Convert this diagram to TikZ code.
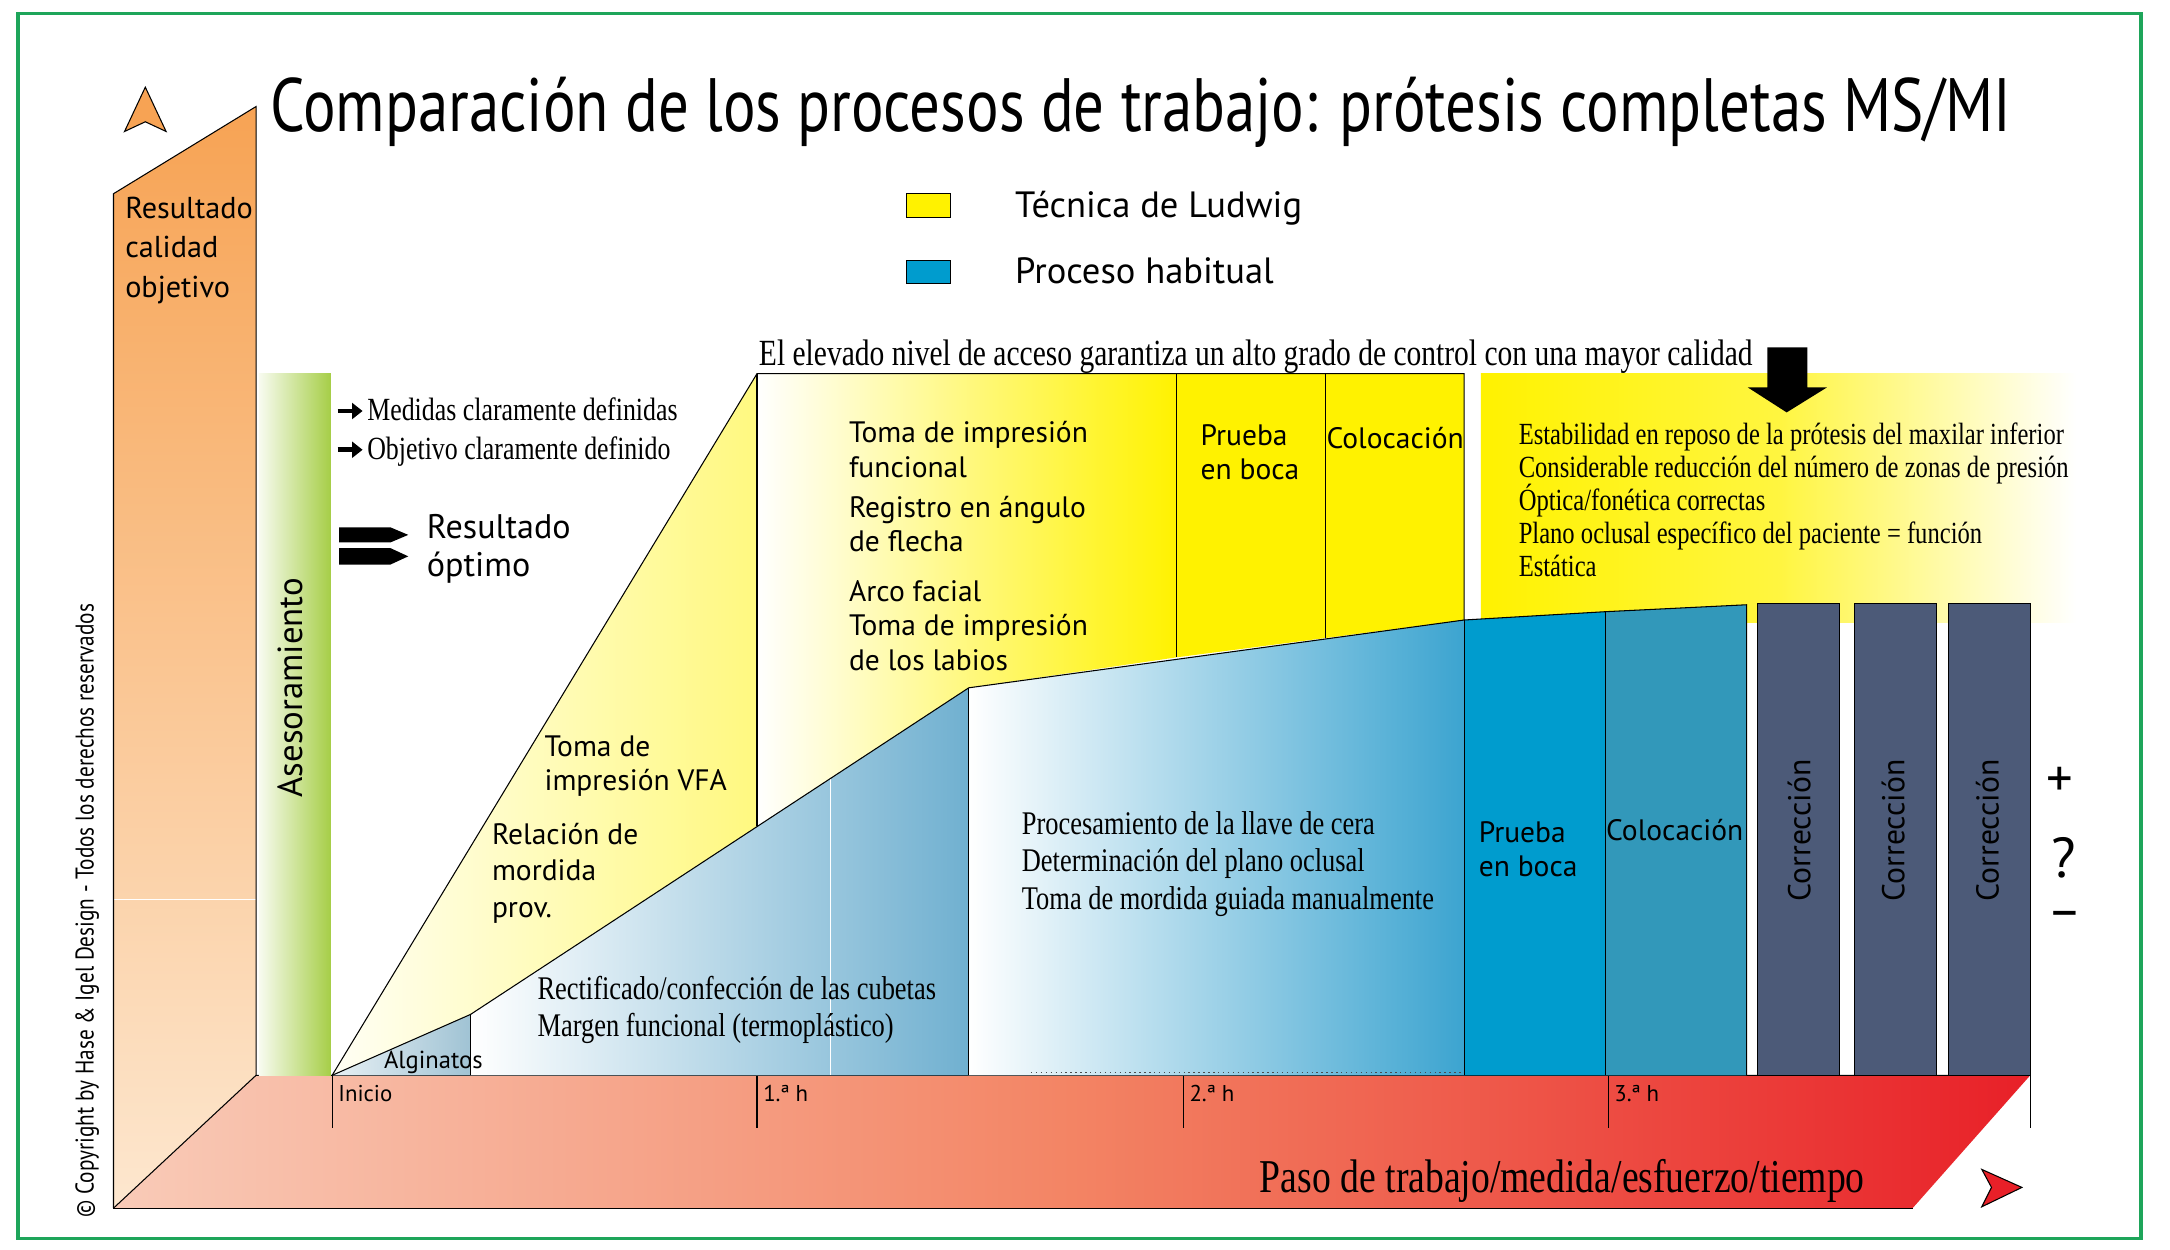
\documentclass[tikz,border=0pt]{standalone}
\usepackage{fontspec}
\setmainfont{Liberation Serif}
\newfontfamily\pts{PT Sans}
\usetikzlibrary{arrows.meta}

\definecolor{framegreen}{RGB}{30,165,90}
\definecolor{axorange}{RGB}{247,163,84}
\definecolor{axpeach}{RGB}{253,231,207}
\definecolor{floorpink}{RGB}{249,203,184}
\definecolor{floorsalmon}{RGB}{243,132,100}
\definecolor{floorred}{RGB}{232,32,40}
\definecolor{advgreen}{RGB}{166,206,71}
\definecolor{ludyellow}{RGB}{255,242,0}
\definecolor{habblue}{RGB}{0,156,206}
\definecolor{colblue}{RGB}{50,152,186}
\definecolor{algblue}{RGB}{160,195,212}
\definecolor{blueA}{RGB}{112,176,208}
\definecolor{blueB}{RGB}{60,164,208}
\definecolor{corrslate}{RGB}{76,90,120}

\tikzset{
  outl/.style={draw=black, line width=0.3pt},
  sanslbl/.style={font=\pts\fontsize{8.4}{9.8}\selectfont, anchor=north west, inner sep=0pt, align=left},
  serlbl/.style={anchor=north west, inner sep=0pt, align=left, transform shape, xscale=0.8},
  ticklbl/.style={font=\pts\fontsize{6.5}{7}\selectfont, anchor=base west, inner sep=0pt},
  corrlbl/.style={font=\pts\fontsize{9}{10}\selectfont, rotate=90, inner sep=0pt}
}

\begin{document}
\begin{tikzpicture}[x=0.01384cm, y=-0.01384cm]
    \useasboundingbox (0,0) rectangle (1568,903);

    % Frame
    \draw[framegreen, line width=0.9pt] (13,10) rectangle (1547,895);

    % Quality axis
    \shade[top color=axorange, bottom color=axpeach] (82,140) -- (185,77) -- (185,777) -- (82,873) -- cycle;
    \draw[white, line width=0.4pt] (82,650) -- (185,650);
    \draw[outl] (82,873) -- (82,140) -- (185,77) -- (185,777);
    \draw[outl, fill=axorange] (105,63) -- (120,95) -- (105,88) -- (90,95) -- cycle;

    % Floor (time axis)
    \shade[left color=floorpink, right color=floorred, middle color=floorsalmon] (82,873) -- (185,777) -- (1467,777) -- (1382,873) -- cycle;
    \draw[outl] (82,873) -- (185,777) -- (1467,777);
    \draw[outl] (82,873) -- (1382,873);
    \draw[outl, fill=floorred] (1432,845) -- (1461,858) -- (1432,872) -- (1439,858) -- cycle;
    \foreach \x/\lbl in {240/Inicio, 547/1.ª h, 855/2.ª h, 1162/3.ª h}
    {
        \draw[outl] (\x,777) -- (\x,815);
        \node[ticklbl] (tick\x) at (\x+4,796) {\lbl};
    }
    \draw[outl] (1467,777) -- (1467,815);

    % Advice bar
    \shade[left color=advgreen!8, right color=advgreen] (187,270) rectangle (239,777);

    % Result box
    \shade[left color=ludyellow, right color=white, middle color=ludyellow!75] (1070,270) rectangle (1500,450);

    % Ludwig technique
    \shade[left color=ludyellow!4, right color=ludyellow!50] (240,777) -- (547,270) -- (547,597) -- (340,733) -- cycle;
    \shade[left color=white, right color=ludyellow] (547,270) -- (850,270) -- (850,475) -- (700,497) -- (547,597) -- cycle;
    \fill[ludyellow] (850,270) -- (1058,270) -- (1058,448) -- (958,461) -- (850,475) -- cycle;

    % Usual process
    \shade[left color=algblue!25, right color=algblue] (240,777) -- (340,733) -- (340,777) -- cycle;
    \shade[left color=white, right color=blueA] (340,733) -- (700,497) -- (700,777) -- (340,777) -- cycle;
    \draw[white, line width=0.4pt] (600,563) -- (600,777);
    \shade[left color=white, right color=blueB] (700,497) -- (1058,448) -- (1058,777) -- (700,777) -- cycle;
    \draw[densely dotted, black!70] (745,775) -- (1058,775);
    \fill[habblue] (1058,448) -- (1160,442) -- (1160,777) -- (1058,777) -- cycle;
    \fill[colblue] (1160,442) -- (1262,437) -- (1262,777) -- (1160,777) -- cycle;
    \foreach \x in {1270,1340,1408}
        \draw[outl, fill=corrslate] (\x,436) rectangle ++(59,341);

    % Outlines
    \draw[outl] (240,777) -- (547,270) -- (1058,270) -- (1058,448);
    \draw[outl] (547,270) -- (547,597);
    \draw[outl] (850,270) -- (850,475);
    \draw[outl] (958,270) -- (958,461);
    \draw[outl] (240,777) -- (340,733) -- (700,497) -- (1058,448) -- (1160,442) -- (1262,437) -- (1262,777);
    \draw[outl] (340,733) -- (340,777);
    \draw[outl] (700,497) -- (700,777);
    \draw[outl] (1058,448) -- (1058,777);
    \draw[outl] (1160,442) -- (1160,777);

    % Arrows
    \fill (1277,251) -- (1306,251) -- (1306,280) -- (1320,280) -- (1291,298) -- (1263,280) -- (1277,280) -- cycle;
    \fill (245,381) -- (282,381) -- (295,386.5) -- (282,392) -- (245,392) -- cycle;
    \fill (245,396) -- (282,396) -- (295,402) -- (282,408) -- (245,408) -- cycle;
    \draw[line width=1.3pt, -{Triangle[length=3pt, width=4.5pt]}] (244,297) -- (262,297);
    \draw[line width=1.3pt, -{Triangle[length=3pt, width=4.5pt]}] (244,325) -- (262,325);

    % Title and legend
    \node[font=\pts\fontsize{21.5}{24}\selectfont, anchor=base west, inner sep=0pt, transform shape, xscale=0.806] (title) at (195,95)
        {Comparación de los procesos de trabajo: prótesis completas MS/MI};
    \draw[outl, fill=ludyellow] (655,140) rectangle (687,157);
    \draw[outl, fill=habblue] (655,188) rectangle (687,205);
    \node[font=\pts\fontsize{10.4}{11}\selectfont, anchor=base west, inner sep=0pt] (legLudwig) at (733,157) {Técnica de Ludwig};
    \node[font=\pts\fontsize{10.4}{11}\selectfont, anchor=base west, inner sep=0pt] (legUsual) at (733,205) {Proceso habitual};

    % Axis texts
    \node[sanslbl, font=\pts\fontsize{8.6}{11.2}\selectfont] (quality) at (90,142) {Resultado\\calidad\\objetivo};
    \node[font=\pts\fontsize{9.9}{10}\selectfont, rotate=90, inner sep=0pt] (advice) at (210,497) {Asesoramiento};
    \node[font=\pts\fontsize{7.3}{8}\selectfont, rotate=90, inner sep=0pt, transform shape, xscale=0.83] (copyright) at (63,658)
        {© Copyright by Hase \& Igel Design - Todos los derechos reservados};
    \node[serlbl, font=\fontsize{13.4}{15}\selectfont, anchor=base west] (timeaxis) at (910,862) {Paso de trabajo/medida/esfuerzo/tiempo};

    % Goal texts
    \node[serlbl, font=\fontsize{9.2}{11}\selectfont] (goals) at (265,287) {Medidas claramente definidas\\Objetivo claramente definido};
    \node[sanslbl, font=\pts\fontsize{9.7}{11}\selectfont] (optimum) at (308,371) {Resultado\\óptimo};
    \node[serlbl, font=\fontsize{10.5}{12}\selectfont, anchor=base west] (control) at (548,264)
        {El elevado nivel de acceso garantiza un alto grado de control con una mayor calidad};
    \node[serlbl, font=\fontsize{8.75}{9.4}\selectfont] (benefits) at (1097,305)
        {Estabilidad en reposo de la prótesis del maxilar inferior\\Considerable reducción del número de zonas de presión\\Óptica/fonética correctas\\Plano oclusal específico del paciente = función\\Estática};

    % Ludwig steps
    \node[sanslbl] (funcImp) at (613,304) {Toma de impresión\\funcional};
    \node[sanslbl] (arrowReg) at (613,358) {Registro en ángulo\\de flecha};
    \node[sanslbl] (faceBow) at (613,419) {Arco facial\\Toma de impresión\\de los labios};
    \node[sanslbl] (tryLud) at (867,306) {Prueba\\en boca};
    \node[sanslbl, anchor=base west] (placeLud) at (958,324) {Colocación};
    \node[sanslbl] (vfaImp) at (393,531) {Toma de\\impresión VFA};
    \node[sanslbl, font=\pts\fontsize{8.4}{10.4}\selectfont] (provBite) at (355,594) {Relación de\\mordida\\prov.};

    % Usual steps
    \node[font=\pts\fontsize{7}{8}\selectfont, anchor=base west, inner sep=0pt] (alginate) at (277,772) {Alginatos};
    \node[serlbl, font=\fontsize{9.4}{10.6}\selectfont] (trays) at (388,705) {Rectificado/confección de las cubetas\\Margen funcional (termoplástico)};
    \node[serlbl, font=\fontsize{9.4}{10.6}\selectfont] (waxKey) at (738,586) {Procesamiento de la llave de cera\\Determinación del plano oclusal\\Toma de mordida guiada manualmente};
    \node[sanslbl] (tryUsual) at (1068,593) {Prueba\\en boca};
    \node[sanslbl, anchor=base west] (placeUsual) at (1160,607) {Colocación};
    \foreach \x/\n in {1300/1, 1368/2, 1436/3}
        \node[corrlbl, text=black] (corr\n) at (\x,600) {Corrección};

    % Outcome marks
    \node[font=\pts\fontsize{15}{16}\selectfont, inner sep=0pt] (plus) at (1488,565) {+};
    \node[font=\pts\fontsize{16}{17}\selectfont, inner sep=0pt] (query) at (1491,620) {?};
    \node[font=\pts\fontsize{15}{16}\selectfont, inner sep=0pt] (minus) at (1492,665) {–};
\end{tikzpicture}
\end{document}
